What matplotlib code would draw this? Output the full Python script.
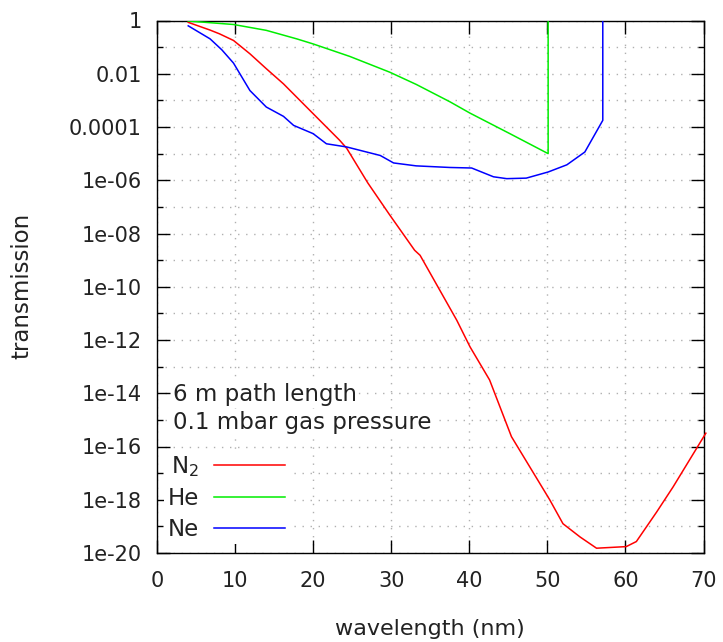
import matplotlib
matplotlib.use("Agg")
import matplotlib.pyplot as plt
import matplotlib.ticker as mticker
import numpy as np

# ── Data (log10 of transmission) ─────────────────────────────────────────────
n2_wl   = [4.0, 6.8, 8.0, 9.8, 11.9, 14.0, 16.2, 20.0, 23.4, 24.3, 27.0, 29.8,
           33.0, 33.7, 38.4, 40.1, 42.6, 45.4, 50.3, 52.0, 54.2, 56.3, 60.1,
           61.4, 64.0, 66.1, 70.3]
n2_log  = [-0.07, -0.36, -0.5, -0.75, -1.25, -1.81, -2.38, -3.5, -4.5, -4.8,
           -6.1, -7.3, -8.63, -8.82, -11.26, -12.26, -13.5, -15.63, -18.0,
           -18.9, -19.4, -19.82, -19.76, -19.57, -18.46, -17.52, -15.5]

he_wl   = [4.0, 9.8, 14.0, 17.9, 20.0, 24.7, 29.8, 33.2, 37.5, 40.1, 45.2,
           50.1, 50.1]
he_log  = [-0.02, -0.15, -0.37, -0.69, -0.88, -1.35, -1.94, -2.4, -3.05,
           -3.48, -4.25, -5.0, 0.0]

ne_wl   = [4.0, 6.8, 8.3, 9.8, 11.9, 14.0, 16.2, 17.5, 20.0, 21.7, 24.3,
           28.6, 30.3, 33.2, 37.5, 40.3, 43.1, 44.8, 47.3, 50.1, 52.5, 54.8,
           57.1, 57.1]
ne_log  = [-0.2, -0.69, -1.1, -1.6, -2.63, -3.25, -3.6, -3.94, -4.25, -4.63,
           -4.75, -5.07, -5.35, -5.46, -5.52, -5.54, -5.87, -5.94, -5.92,
           -5.69, -5.42, -4.94, -3.75, 0.0]

series = [("N$_2$", n2_wl, n2_log, "#ff0000"),
          ("He",    he_wl, he_log, "#00ee00"),
          ("Ne",    ne_wl, ne_log, "#0000ff")]

major_exp = list(range(0, -21, -2))
minor_exp = list(range(-1, -20, -2))
ytick_labels = ["1", "0.01", "0.0001"] + [f"1e-{abs(e):02d}" for e in major_exp[3:]]
xticks = [0, 10, 20, 30, 40, 50, 60, 70]

# ── Figure ───────────────────────────────────────────────────────────────────
fig = plt.figure(figsize=(7.23, 6.42), dpi=100)
ax = fig.add_axes([157 / 723, 89 / 642, 546.5 / 723, 532.5 / 642])

for label, wl, lg, color in series:
    ax.plot(wl, 10.0 ** np.array(lg), color=color, lw=1.1, label=label,
            zorder=3, clip_on=False if label == "N$_2$" else True)

ax.set_yscale("log")
ax.set_xlim(0, 70)
ax.set_ylim(1e-20, 1)

ax.yaxis.set_major_locator(mticker.FixedLocator([10.0 ** e for e in major_exp]))
ax.yaxis.set_minor_locator(mticker.FixedLocator([10.0 ** e for e in minor_exp]))
ax.yaxis.set_major_formatter(mticker.FixedFormatter(ytick_labels))
ax.yaxis.set_minor_formatter(mticker.NullFormatter())
ax.set_xticks(xticks)
ax.set_xticklabels([str(v) for v in xticks])

ax.tick_params(which="both", direction="in", top=True, right=True, width=1.0,
               colors="black")
ax.tick_params(which="major", length=9.3)
ax.tick_params(which="minor", length=4.3)
ax.tick_params(axis="y", which="major", labelsize=15, pad=11)
ax.tick_params(axis="x", which="major", labelsize=15, pad=13)
for tl in ax.get_xticklabels() + ax.get_yticklabels():
    tl.set_color("#222222")

for sp in ax.spines.values():
    sp.set_linewidth(1.0)

grid_kw = dict(color="#b0b0b0", lw=1.0, linestyle=(0, (1, 4.8)))
ax.grid(True, which="both", axis="y", **grid_kw)
ax.grid(True, which="major", axis="x", **grid_kw)

# key text
txt_kw = dict(transform=ax.transAxes, ha="left", va="center", fontsize=16.5,
              color="#222222", zorder=4,
              bbox=dict(facecolor="white", edgecolor="none", pad=1.0))
ax.text(16 / 546.5, (553 - 395) / 532.5, "6 m path length", **txt_kw)
ax.text(16 / 546.5, (553 - 422) / 532.5, "0.1 mbar gas pressure", **txt_kw)

leg = ax.legend(loc="upper left", bbox_to_anchor=(7 / 546.5, (553 - 451) / 532.5),
                borderaxespad=0, borderpad=0.15, markerfirst=False,
                handlelength=3.1, handletextpad=0.65, labelspacing=0.34,
                fontsize=16.5, frameon=True, fancybox=False, framealpha=1,
                facecolor="white", edgecolor="none")
for t in leg.get_texts():
    t.set_color("#222222")

fig.text(22 / 723, 1 - 286 / 642, "transmission", rotation=90,
         ha="center", va="center", fontsize=16.5, color="#222222")
fig.text(430 / 723, 1 - 629 / 642, "wavelength (nm)",
         ha="center", va="center", fontsize=16, color="#222222")

fig.savefig("out.png", dpi=100)
